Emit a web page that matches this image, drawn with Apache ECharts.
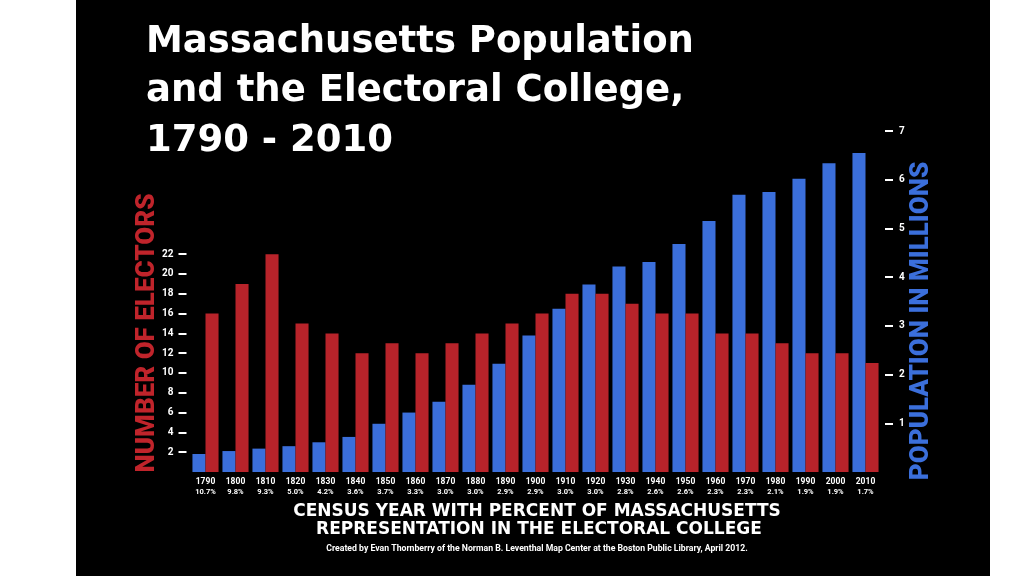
<!DOCTYPE html>
<html>
<head>
<meta charset="utf-8">
<script src="https://cdn.jsdelivr.net/npm/echarts@6/dist/echarts.min.js"></script>
<style>
html,body{margin:0;padding:0;background:#fff;}
#c{width:1024px;height:576px;}
</style>
</head>
<body>
<div id="c"></div>
<script>
const years = ['1790','1800','1810','1820','1830','1840','1850','1860','1870','1880','1890','1900','1910','1920','1930','1940','1950','1960','1970','1980','1990','2000','2010'];
const percents = ['10.7%','9.8%','9.3%','5.0%','4.2%','3.6%','3.7%','3.3%','3.0%','3.0%','2.9%','2.9%','3.0%','3.0%','2.8%','2.6%','2.6%','2.3%','2.3%','2.1%','1.9%','1.9%','1.7%'];
const populationMillions = [0.37,0.43,0.48,0.53,0.61,0.72,0.99,1.22,1.44,1.79,2.22,2.80,3.35,3.85,4.22,4.31,4.68,5.15,5.69,5.75,6.02,6.34,6.55];
const electors = [16,19,22,15,14,12,13,12,13,14,15,16,18,18,17,16,16,14,14,13,12,12,11];
const electorTicks = [2,4,6,8,10,12,14,16,18,20,22];
const populationTicks = [1,2,3,4,5,6,7];

const heavy = 'Roboto, "Liberation Sans", sans-serif';
const wide = '"DejaVu Sans", sans-serif';
const chart = echarts.init(document.getElementById('c'), null, {renderer:'canvas'});
chart.setOption({
  backgroundColor: '#ffffff',
  animation: false,
  graphic: [
    {type:'rect', shape:{x:76,y:0,width:914,height:576}, style:{fill:'#000'}, z:-10, silent:true},
    {type:'text', x:146, y:42, style:{text:'Massachusetts Population', fill:'#fff', font:'bold 37px '+wide, verticalAlign:'middle'}},
    {type:'text', x:146, y:91, style:{text:'and the Electoral College,', fill:'#fff', font:'bold 37px '+wide, verticalAlign:'middle'}},
    {type:'text', x:146, y:141, style:{text:'1790 - 2010', fill:'#fff', font:'bold 37px '+wide, verticalAlign:'middle'}},
    {type:'text', x:147, y:333, rotation:Math.PI/2, style:{text:'NUMBER OF ELECTORS', fill:'#c0242b', font:'900 26px '+heavy, align:'center', verticalAlign:'middle'}},
    {type:'text', x:921, y:321, rotation:Math.PI/2, style:{text:'POPULATION IN MILLIONS', fill:'#3b6fdb', font:'900 26px '+heavy, align:'center', verticalAlign:'middle'}},
    {type:'text', x:537, y:512, style:{text:'CENSUS YEAR WITH PERCENT OF MASSACHUSETTS', fill:'#fff', font:'bold 17px '+wide, align:'center', verticalAlign:'middle'}},
    {type:'text', x:539, y:530, style:{text:'REPRESENTATION IN THE ELECTORAL COLLEGE', fill:'#fff', font:'bold 17px '+wide, align:'center', verticalAlign:'middle'}},
    {type:'text', x:537, y:549, style:{text:'Created by Evan Thornberry of the Norman B. Leventhal Map Center at the Boston Public Library, April 2012.', fill:'#fff', font:'bold 8.7px '+heavy, align:'center', verticalAlign:'middle'}}
  ],
  grid: {left:190.5, right:143.5, top:131, bottom:104, containLabel:false},
  xAxis: {
    type:'category', data: years,
    axisLine:{show:false}, axisTick:{show:false},
    axisLabel:{
      interval:0, margin:5, color:'#fff',
      formatter: function(v, i){ return '{y|' + v + '}\n{p|' + percents[i] + '}'; },
      rich:{
        y:{color:'#fff', fontSize:8.5, fontWeight:'bold', fontFamily:heavy, lineHeight:10},
        p:{color:'#fff', fontSize:7.5, fontWeight:'bold', fontFamily:heavy, lineHeight:10}
      }
    }
  },
  yAxis: [
    {
      type:'value', min:0, max:34.44, position:'left', offset:4,
      splitLine:{show:false}, axisLine:{show:false},
      axisTick:{show:true, length:8, customValues:electorTicks, lineStyle:{color:'#fff', width:2}},
      axisLabel:{customValues:electorTicks, margin:13, color:'#fff', fontSize:10, fontWeight:'bold', fontFamily:heavy}
    },
    {
      type:'value', min:0, max:7, interval:1, position:'right', offset:4.5,
      splitLine:{show:false}, axisLine:{show:false},
      axisTick:{show:true, length:8, customValues:populationTicks, lineStyle:{color:'#fff', width:2}},
      axisLabel:{customValues:populationTicks, margin:14, color:'#fff', fontSize:10, fontWeight:'bold', fontFamily:heavy}
    }
  ],
  series: [
    {name:'Population', type:'bar', yAxisIndex:1, data:populationMillions, barGap:'0%', barCategoryGap:'13%', itemStyle:{color:'#3b6fdb'}},
    {name:'Electors', type:'bar', yAxisIndex:0, data:electors, barGap:'0%', barCategoryGap:'13%', itemStyle:{color:'#b8232a'}}
  ]
});
</script>
</body>
</html>
